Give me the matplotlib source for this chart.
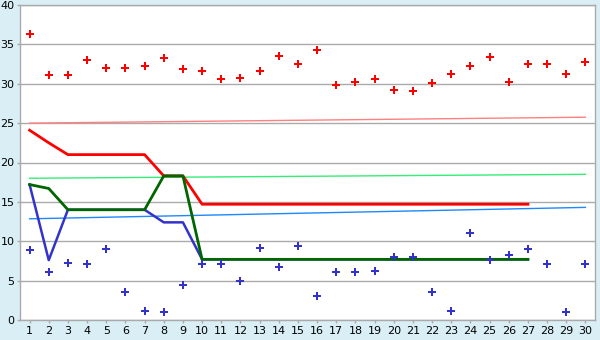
import numpy as np
import matplotlib
matplotlib.use("Agg")
from matplotlib import pyplot as plt

days = list(range(1, 31))

# scattered points
high_pts = [36.3, 31.1, 31.1, 33.0, 32.0, 32.0, 32.3, 33.3, 31.9, 31.6,
            30.6, 30.7, 31.6, 33.5, 32.5, 34.3, 29.9, 30.2, 30.6, 29.2,
            29.1, 30.1, 31.2, 32.3, 33.4, 30.2, 32.5, 32.5, 31.2, 32.8]
low_pts = [8.9, 6.1, 7.2, 7.1, 9.0, 3.5, 1.1, 1.0, 4.5, 7.1,
           7.1, 5.0, 9.1, 6.7, 9.4, 3.0, 6.1, 6.1, 6.2, 8.0,
           8.0, 3.6, 1.1, 11.0, 7.6, 8.2, 9.0, 7.1, 1.0, 7.1]

# thick lines (days 1..27)
line_days = list(range(1, 28))
red_line = [24.1, 22.5, 21.0, 21.0, 21.0, 21.0, 21.0, 18.3, 18.3] + [14.7] * 18
green_line = [17.2, 16.7, 14.0, 14.0, 14.0, 14.0, 14.0, 18.3, 18.3] + [7.7] * 18
blue_line = [17.2, 7.6, 14.0, 14.0, 14.0, 14.0, 14.0, 12.4, 12.4] + [7.7] * 18

# thin trend lines (start at day 1, end at day 30)
trend_days = [1, 30]
red_trend = [25.0, 25.75]
green_trend = [18.0, 18.5]
blue_trend = [12.85, 14.3]

fig = plt.figure(figsize=(6, 3.4), dpi=100)
fig.patch.set_facecolor("#D9EFF5")
ax = fig.add_axes([20 / 600, 1 - 320 / 340, 575 / 600, 315 / 340])
ax.set_facecolor("white")

ax.plot(trend_days, red_trend, color="#FF8080", lw=1.0, zorder=2)
ax.plot(trend_days, green_trend, color="#33EE77", lw=1.0, zorder=2)
ax.plot(trend_days, blue_trend, color="#1E88FF", lw=1.0, zorder=2)

ax.plot(line_days, blue_line, color="#3333CC", lw=1.8, zorder=3)
ax.plot(line_days, red_line, color="#FF0000", lw=2.0, zorder=4)
ax.plot(line_days, green_line, color="#006600", lw=2.0, zorder=5)

ax.plot(days, high_pts, ls="none", marker="P", ms=5.5, color="#FF0000",
        mec="#FF0000", mew=0, zorder=6)
ax.plot(days, low_pts, ls="none", marker="P", ms=5.5, color="#3333CC",
        mec="#3333CC", mew=0, zorder=6)

ax.set_xlim(0.5, 30.5)
ax.set_ylim(0, 40)
ax.set_xticks(days)
ax.set_yticks(range(0, 41, 5))
ax.yaxis.grid(True, color="#AAAAAA", lw=1.0)
ax.set_axisbelow(True)
for s in ax.spines.values():
    s.set_color("#AAAAAA")
    s.set_linewidth(1.0)
ax.tick_params(axis="both", colors="#AAAAAA", labelcolor="black",
               labelsize=8, length=2.5, width=1, pad=1.5)

fig.savefig("out.png", dpi=100, facecolor=fig.get_facecolor())
